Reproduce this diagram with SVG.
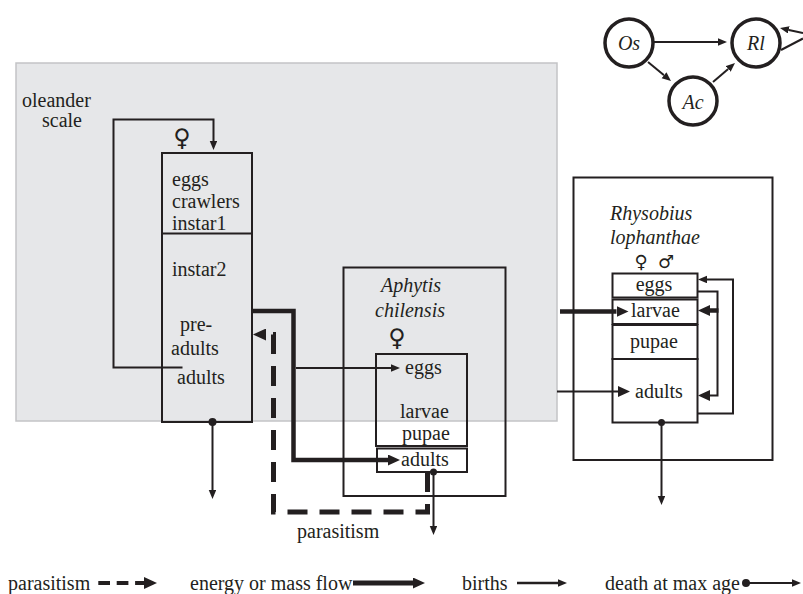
<svg xmlns="http://www.w3.org/2000/svg" width="803" height="594" viewBox="0 0 803 594">
<style>
.t{font-family:"Liberation Serif","Times New Roman",serif;font-size:20px;fill:#231f20}
.i{font-style:italic}
.m{text-anchor:middle}
.sym{font-family:"DejaVu Sans",sans-serif;font-size:24px;font-weight:bold;fill:#231f20;text-anchor:middle}
.sym2{font-size:18px}
.box{fill:none;stroke:#231f20;stroke-width:2}
.ln{fill:none;stroke:#231f20;stroke-width:2}
.thick{fill:none;stroke:#231f20;stroke-width:4.5}
.dash{fill:none;stroke:#231f20;stroke-width:5;stroke-dasharray:20 12}
.dot{fill:#231f20}
.circ{fill:#fff;stroke:#231f20;stroke-width:3.5}
</style>
<defs>
<marker id="hs" markerUnits="userSpaceOnUse" markerWidth="9" markerHeight="8" refX="0" refY="3.75" orient="auto"><path d="M0,0 L9,3.75 L0,7.5 z" fill="#231f20"/></marker>
<marker id="hb" markerUnits="userSpaceOnUse" markerWidth="12" markerHeight="11" refX="0" refY="5.5" orient="auto"><path d="M0,0 L12,5.5 L0,11 z" fill="#231f20"/></marker>
<marker id="hd" markerUnits="userSpaceOnUse" markerWidth="13" markerHeight="12" refX="0" refY="6" orient="auto"><path d="M0,0 L13,6 L0,12 z" fill="#231f20"/></marker>
</defs>
<rect width="803" height="594" fill="#fff"/>

<g id="oleander-scale">
<rect x="16" y="63" width="541" height="358" fill="#e6e7e9" stroke="#c3c4c6" stroke-width="1.5"/>
<text class="t" x="22" y="107">oleander</text>
<text class="t" x="42" y="127">scale</text>
<text class="sym" x="182" y="146">♀</text>
<rect class="box" x="162" y="153" width="90" height="269"/>
<line class="ln" x1="162" y1="233.5" x2="252" y2="233.5"/>
<text class="t" x="172" y="186">eggs</text>
<text class="t" x="172" y="208">crawlers</text>
<text class="t" x="172" y="230">instar1</text>
<text class="t" x="172" y="276">instar2</text>
<text class="t" x="180" y="331">pre-</text>
<text class="t" x="171" y="355">adults</text>
<text class="t" x="177" y="384">adults</text>
</g>

<g id="aphytis-chilensis">
<rect class="box" x="343.5" y="267.5" width="162" height="228.5"/>
<text class="t i m" x="411" y="292">Aphytis</text>
<text class="t i m" x="410" y="317">chilensis</text>
<text class="sym" x="397" y="346">♀</text>
<rect class="box" x="376" y="354" width="91" height="92"/>
<rect class="box" x="377" y="448.5" width="90" height="23.5"/>
<text class="t" x="405" y="374">eggs</text>
<text class="t" x="400" y="418">larvae</text>
<text class="t" x="402" y="440">pupae</text>
<text class="t" x="401" y="466">adults</text>
</g>

<g id="rhysobius-lophanthae">
<rect class="box" x="573.5" y="177.5" width="199" height="282.5"/>
<text class="t i" x="610" y="220">Rhysobius</text>
<text class="t i" x="610" y="244">lophanthae</text>
<text class="sym sym2" x="641" y="267.5">♀</text>
<text class="sym sym2" x="666" y="267.5">♂</text>
<rect class="box" x="612.5" y="273.5" width="85" height="24"/>
<rect class="box" x="612.5" y="299.5" width="85" height="24.5"/>
<rect class="box" x="612.5" y="325" width="85" height="34"/>
<rect class="box" x="612.5" y="359" width="85" height="63.5"/>
<text class="t m" x="654" y="291">eggs</text>
<text class="t" x="631" y="317">larvae</text>
<text class="t m" x="654" y="348">pupae</text>
<text class="t" x="635" y="398">adults</text>
</g>

<g id="node-Os">
<circle class="circ" cx="629" cy="43" r="24"/>
<text class="t i m" x="629" y="50">Os</text>
</g>
<g id="node-Rl">
<circle class="circ" cx="756" cy="43" r="24"/>
<text class="t i m" x="756" y="50">Rl</text>
</g>
<g id="node-Ac">
<circle class="circ" cx="693" cy="101" r="24"/>
<text class="t i m" x="693" y="109">Ac</text>
</g>

<g id="connectors">
<path class="ln" d="M182.5,367.5 H113.5 V119.5 H213.5 V141" marker-end="url(#hs)"/>
<path class="thick" d="M252,311 H293.5 V460 H388" stroke-linejoin="miter" marker-end="url(#hb)"/>
<path class="ln" d="M296,368 H391" marker-end="url(#hs)"/>
<path class="dash" d="M427.5,472 V512 H273.5 V334.5 H266" marker-end="url(#hd)"/>
<circle class="dot" cx="212.5" cy="422" r="4"/>
<path class="ln" d="M212.5,422 V490" marker-end="url(#hs)"/>
<circle class="dot" cx="433.5" cy="472" r="3.5"/>
<path class="ln" d="M433.5,472 V526" marker-end="url(#hs)"/>
<circle class="dot" cx="661.5" cy="422.5" r="3.5"/>
<path class="ln" d="M661.5,422.5 V496" marker-end="url(#hs)"/>
<path class="thick" d="M560,311.5 H616.5" marker-end="url(#hb)"/>
<path class="ln" d="M557,391.5 H618" marker-end="url(#hb)"/>
<path class="ln" d="M697.5,413.5 H733 V279.5 H707" marker-end="url(#hs)"/>
<path class="ln" d="M697.5,291.5 H717.5 V395.5 H710" marker-end="url(#hb)"/>
<path class="thick" d="M718.5,310.5 H710" marker-end="url(#hb)"/>
<path class="ln" d="M654,42 H718" marker-end="url(#hs)"/>
<path class="ln" d="M648,62 L664.05,75.26" marker-end="url(#hs)"/>
<path class="ln" d="M713,82 L728.19,68.89" marker-end="url(#hs)"/>
<path class="ln" d="M803,33 L788.8,29.9" marker-end="url(#hs)"/>
<path class="ln" d="M781,50 L803,38.5"/>
</g>

<text class="t" x="297" y="538">parasitism</text>

<g id="legend">
<text class="t" x="8" y="590">parasitism</text>
<path fill="none" stroke="#231f20" stroke-width="4" stroke-dasharray="11.7 6.7" d="M98.3,583 H144" marker-end="url(#hd)"/>
<text class="t" x="190" y="590">energy or mass flow</text>
<path fill="none" stroke="#231f20" stroke-width="5" d="M353,583 H413" marker-end="url(#hb)"/>
<text class="t" x="462" y="590">births</text>
<path fill="none" stroke="#231f20" stroke-width="2.5" d="M517,583 H558" marker-end="url(#hs)"/>
<text class="t" x="605" y="590">death at max age</text>
<circle class="dot" cx="746" cy="583" r="4"/>
<path class="ln" d="M746,583 H792" marker-end="url(#hs)"/>
</g>
</svg>
